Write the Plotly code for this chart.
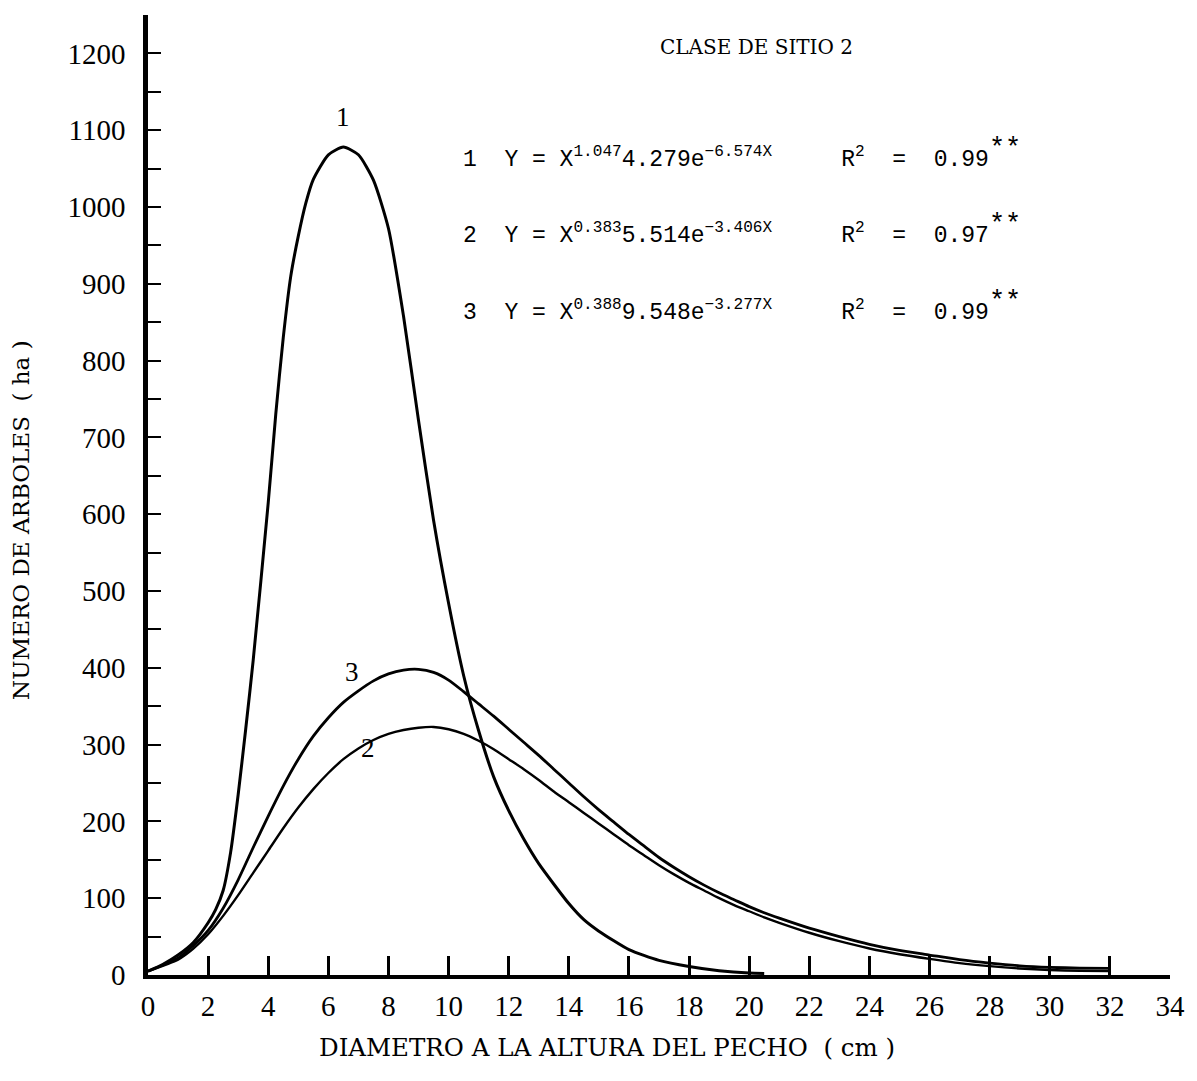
import plotly.graph_objects as go

# Diameter classes (cm) and fitted number of trees per hectare, one list per curve
dap_1 = [0, 0.5, 1.0, 1.5, 2.0, 2.25, 2.5, 2.75, 3.0, 3.25, 3.5, 4.0, 4.25, 4.5, 4.75,
         5.0, 5.25, 5.5, 6.0, 6.5, 7.0, 7.5, 8.0, 8.5, 9.0, 9.5, 10.0, 10.5, 11.0, 11.5,
         12.0, 12.5, 13.0, 14.0, 14.5, 15.0, 16.0, 17.0, 18.0, 19.0, 20.0, 20.5]
arboles_1 = [5, 14, 26, 42, 68, 85, 110, 160, 235, 320, 410, 615, 730, 830, 910,
             962, 1005, 1036, 1068, 1078, 1068, 1035, 972, 858, 722, 592, 484, 390, 318, 258,
             214, 177, 145, 93, 72, 57, 33, 19, 11, 5.5, 2.5, 2]

dap_2 = [0, 1.0, 1.5, 2.0, 2.5, 3.0, 3.5, 4.0, 4.5, 5.0, 5.5, 6.0, 6.5, 7.0, 7.5, 8.0,
         8.5, 9.0, 9.5, 10.0, 10.5, 11.0, 11.5, 12.0, 12.5, 13.0, 13.5, 14.0, 14.5, 15.0,
         15.5, 16.0, 16.5, 17.0, 17.5, 18.0, 18.5, 19.0, 19.5, 20.0, 20.5, 21.0, 22.0,
         23.0, 24.0, 25.0, 26.0, 27.0, 28.0, 29.0, 30.0, 31.0, 32.0]
arboles_2 = [5, 20, 34, 53, 77, 104, 133, 162, 191, 218, 242, 263, 281, 295, 306, 314,
             319, 322, 323, 320, 314, 305, 294, 281, 268, 254, 239, 225, 211, 197,
             183, 169, 156, 143, 131, 120, 110, 100, 91, 83, 75, 68, 55,
             44, 34.5, 27, 21, 15.5, 11.5, 8.5, 6.5, 5.5, 5]

dap_3 = [0, 1.0, 1.5, 2.0, 2.5, 3.0, 3.5, 4.0, 4.5, 5.0, 5.5, 6.0, 6.5, 7.0, 7.5, 8.0,
         8.5, 9.0, 9.5, 10.0, 10.5, 11.0, 11.5, 12.0, 12.5, 13.0, 13.5, 14.0, 14.5, 15.0,
         15.5, 16.0, 16.5, 17.0, 17.5, 18.0, 18.5, 19.0, 19.5, 20.0, 20.5, 21.0, 22.0,
         23.0, 24.0, 25.0, 26.0, 27.0, 28.0, 29.0, 30.0, 31.0, 32.0]
arboles_3 = [5, 22, 38, 58, 87, 124, 166, 207, 246, 281, 311, 335, 355, 370, 383, 392,
             397, 398, 394, 384, 369, 353, 337, 320, 303, 286, 268, 250, 232, 215,
             199, 183, 168, 153, 140, 128, 117, 107, 98, 89, 81, 74, 61,
             50, 40, 32, 26, 20, 15.5, 12, 10, 9, 8.5]

x_ticks = list(range(0, 36, 2))
y_ticks = list(range(0, 1300, 100))

# one typed line per fitted model: equation, then its coefficient of determination
STARS = "<sup><span style='font-size:27px'>**</span></sup>"
GAP = "     "
ecuaciones = [
    "1  Y = X<sup>1.047</sup>4.279e<sup>\u22126.574X</sup>" + GAP + "R<sup>2</sup>  =  0.99" + STARS,
    "2  Y = X<sup>0.383</sup>5.514e<sup>\u22123.406X</sup>" + GAP + "R<sup>2</sup>  =  0.97" + STARS,
    "3  Y = X<sup>0.388</sup>9.548e<sup>\u22123.277X</sup>" + GAP + "R<sup>2</sup>  =  0.99" + STARS,
]

SERIF = "Liberation Serif"
WIDE = "DejaVu Serif"
MONO = "Liberation Mono"

fig = go.Figure()
for xs, ys, w in [(dap_1, arboles_1, 3), (dap_2, arboles_2, 2.4), (dap_3, arboles_3, 2.8)]:
    fig.add_trace(go.Scatter(x=xs, y=ys, mode="lines",
                             line=dict(color="black", width=w, shape="spline", smoothing=0.6),
                             hoverinfo="skip", showlegend=False))

annotations = []
# curve numbers
for txt, xv, yv in [("1", 6.5, 1117), ("3", 6.8, 395), ("2", 7.33, 296)]:
    annotations.append(dict(text=txt, x=xv, y=yv, xref="x", yref="y", showarrow=False,
                            font=dict(family=SERIF, size=27, color="black")))
# site class heading
annotations.append(dict(text="CLASE DE SITIO 2", x=16.95, y=1208, xref="x", yref="y",
                        xanchor="left", showarrow=False,
                        font=dict(family=WIDE, size=20, color="black")))
# fitted equations
for i, eq in enumerate(ecuaciones):
    yv = 1070 - i * 99.5
    annotations.append(dict(text=eq, x=10.4, y=yv, xref="x", yref="y", xanchor="left",
                            showarrow=False, font=dict(family=MONO, size=23, color="black")))
# axis titles
annotations.append(dict(text="DIAMETRO A LA ALTURA DEL PECHO  ( cm )", x=0.449, y=-0.093,
                        xref="paper", yref="paper", showarrow=False,
                        font=dict(family=WIDE, size=24.5, color="black")))
annotations.append(dict(text="NUMERO DE ARBOLES  ( ha )", x=-0.139, y=0.474,
                        xref="paper", yref="paper", showarrow=False, textangle=-90,
                        font=dict(family=WIDE, size=23, color="black")))

fig.update_layout(
    width=1197, height=1081,
    margin=dict(l=148, r=21, t=15, b=106),
    paper_bgcolor="white", plot_bgcolor="white",
    annotations=annotations,
    xaxis=dict(range=[0, 34], tickvals=x_ticks, ticktext=[str(v) for v in x_ticks],
               ticks="", showgrid=False, zeroline=False,
               showline=True, linecolor="black", linewidth=3.5,
               ticklabelstandoff=2,
               tickfont=dict(family=SERIF, size=29, color="black"),
               minor=dict(tickmode="array", tickvals=list(range(2, 34, 2)),
                          ticks="inside", ticklen=19, tickwidth=2.5, tickcolor="black",
                          showgrid=False)),
    yaxis=dict(range=[0, 1250], tickvals=y_ticks, ticktext=[str(v) for v in y_ticks],
               ticks="inside", ticklen=13, tickwidth=2, tickcolor="black",
               showgrid=False, zeroline=False,
               showline=True, linecolor="black", linewidth=4.5,
               ticklabelstandoff=12,
               tickfont=dict(family=SERIF, size=29, color="black"),
               minor=dict(tickmode="array", tickvals=list(range(50, 1300, 100)),
                          ticks="inside", ticklen=13, tickwidth=2, tickcolor="black",
                          showgrid=False)),
)

fig.write_html("out.html")
